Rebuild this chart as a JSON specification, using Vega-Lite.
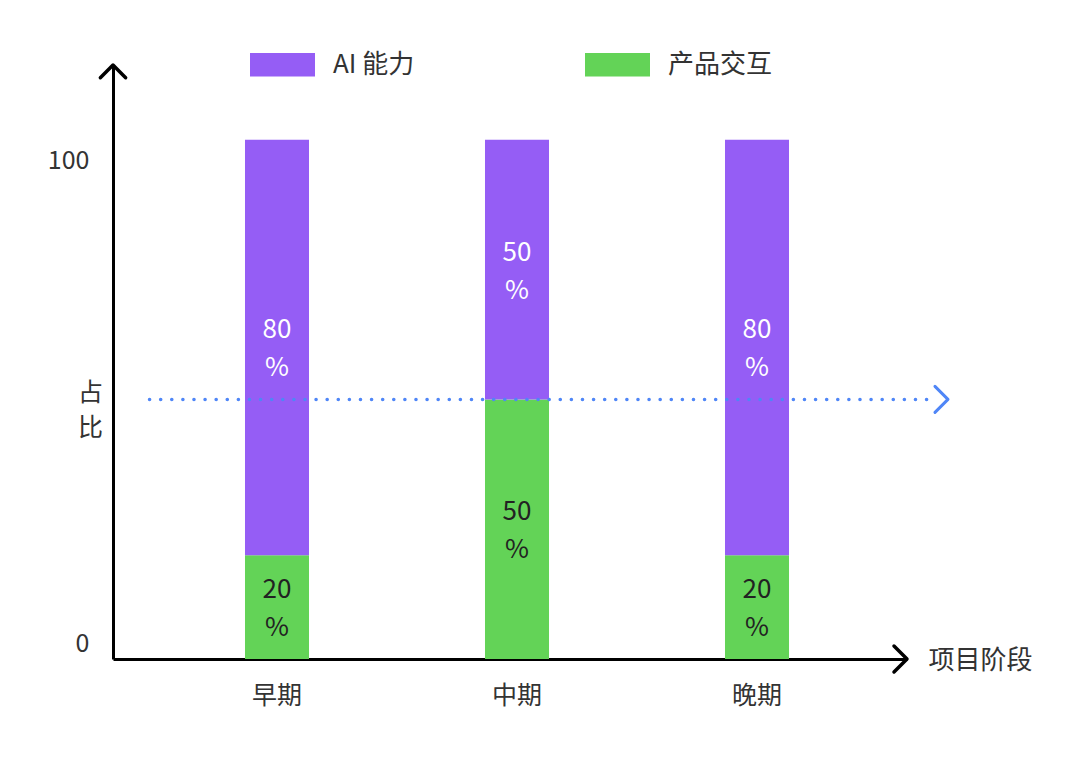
{
  "$schema": "https://vega.github.io/schema/vega-lite/v6.json",
  "width": 794,
  "height": 594,
  "autosize": {"type": "none"},
  "padding": {"left": 113, "top": 65, "right": 173, "bottom": 99},
  "background": "white",
  "config": {
    "view": {"stroke": null},
    "font": "Noto Sans CJK SC"
  },
  "data": {
    "values": [
      {"阶段": "早期", "类别": "产品交互", "占比": 20},
      {"阶段": "早期", "类别": "AI 能力", "占比": 80},
      {"阶段": "中期", "类别": "产品交互", "占比": 50},
      {"阶段": "中期", "类别": "AI 能力", "占比": 50},
      {"阶段": "晚期", "类别": "产品交互", "占比": 20},
      {"阶段": "晚期", "类别": "AI 能力", "占比": 80}
    ]
  },
  "resolve": {"scale": {"x": "independent"}},
  "layer": [
    {
      "mark": {"type": "bar"},
      "encoding": {
        "x": {
          "field": "阶段",
          "type": "nominal",
          "sort": ["早期", "中期", "晚期"],
          "scale": {"type": "band", "paddingInner": 0.7333, "paddingOuter": 0.5208, "align": 0.528},
          "axis": {
            "title": "项目阶段",
            "labelAngle": 0,
            "domainColor": "black",
            "domainWidth": 3,
            "ticks": false,
            "labelPadding": 24,
            "labelFontSize": 25,
            "labelColor": "#333333",
            "titleX": 815,
            "titleY": 1,
            "titleAlign": "left",
            "titleBaseline": "middle",
            "titleFontSize": 26,
            "titleFontWeight": "normal",
            "titleColor": "#333333"
          }
        },
        "y": {
          "field": "占比",
          "type": "quantitative",
          "stack": "zero",
          "scale": {"domain": [0, 114.4], "nice": false},
          "axis": {
            "values": [0, 100],
            "grid": false,
            "ticks": false,
            "domainColor": "black",
            "domainWidth": 3,
            "labelPadding": 24,
            "labelFontSize": 25,
            "labelColor": "#333333",
            "labelBaseline": "middle",
            "labelOffset": {"condition": {"test": "datum.value == 0", "value": -16}, "value": 21},
            "title": ["占", "比"],
            "titleAngle": 0,
            "titleX": -23,
            "titleY": 327,
            "titleAlign": "center",
            "titleBaseline": "middle",
            "titleLineHeight": 35,
            "titleFontSize": 25,
            "titleFontWeight": "normal",
            "titleColor": "#333333"
          }
        },
        "color": {
          "field": "类别",
          "type": "nominal",
          "scale": {"domain": ["AI 能力", "产品交互"], "range": ["#955DF5", "#63D357"]},
          "legend": {
            "orient": "none",
            "legendX": 137,
            "legendY": -33,
            "direction": "horizontal",
            "title": null,
            "symbolType": "M-1,-0.36H1V0.36H-1Z",
            "symbolSize": 4225,
            "symbolStrokeWidth": 0,
            "labelFontSize": 26,
            "labelColor": "#333333",
            "labelOffset": 18,
            "columnPadding": 170,
            "padding": 0
          }
        },
        "order": {"field": "类别", "sort": "descending"}
      }
    },
    {
      "transform": [
        {"stack": "占比", "groupby": ["阶段"], "sort": [{"field": "类别", "order": "descending"}], "as": ["y0", "y1"]},
        {"calculate": "(datum.y0 + datum.y1) / 2", "as": "mid"},
        {"calculate": "[datum['占比'] + '', '%']", "as": "label"}
      ],
      "mark": {"type": "text", "fontSize": 26, "lineHeight": 38, "baseline": "middle", "align": "center", "dy": -17},
      "encoding": {
        "x": {
          "field": "阶段",
          "type": "nominal",
          "sort": ["早期", "中期", "晚期"],
          "bandPosition": 0.5,
          "scale": {"type": "band", "paddingInner": 0.7333, "paddingOuter": 0.5208, "align": 0.528},
          "axis": null
        },
        "y": {"field": "mid", "type": "quantitative"},
        "text": {"field": "label"},
        "color": {"condition": {"test": "datum['类别'] == 'AI 能力'", "value": "white"}, "value": "#222222"}
      }
    },
    {
      "data": {"values": [{}]},
      "mark": {"type": "rule", "color": "#4F86F7", "strokeWidth": 3.5, "strokeDash": [0.1, 11], "strokeCap": "round"},
      "encoding": {
        "x": {"datum": 0.046, "type": "quantitative", "scale": {"domain": [0, 1]}, "axis": null},
        "x2": {"datum": 1.035},
        "y": {"datum": 50, "type": "quantitative"}
      }
    },
    {
      "data": {"values": [{}]},
      "mark": {"type": "point", "shape": "M-1,1L0,0L1,1", "size": 640, "filled": false, "stroke": "black", "strokeWidth": 3.5, "opacity": 1, "strokeCap": "round", "strokeJoin": "round"},
      "encoding": {
        "x": {"datum": 0, "type": "quantitative", "scale": {"domain": [0, 1]}, "axis": null},
        "y": {"datum": 114.4, "type": "quantitative"}
      }
    },
    {
      "data": {"values": [{}]},
      "mark": {"type": "point", "shape": "M-1,-1L0,0L-1,1", "size": 676, "filled": false, "stroke": "black", "strokeWidth": 3.5, "opacity": 1, "strokeCap": "round", "strokeJoin": "round"},
      "encoding": {
        "x": {"datum": 1, "type": "quantitative", "scale": {"domain": [0, 1]}, "axis": null},
        "y": {"datum": 0, "type": "quantitative"}
      }
    },
    {
      "data": {"values": [{}]},
      "mark": {"type": "point", "shape": "M-1,-1L0,0L-1,1", "size": 676, "filled": false, "stroke": "#4F86F7", "strokeWidth": 3, "opacity": 1, "strokeCap": "round", "strokeJoin": "round"},
      "encoding": {
        "x": {"datum": 1.0516, "type": "quantitative", "scale": {"domain": [0, 1]}, "axis": null},
        "y": {"datum": 50, "type": "quantitative"}
      }
    }
  ]
}
